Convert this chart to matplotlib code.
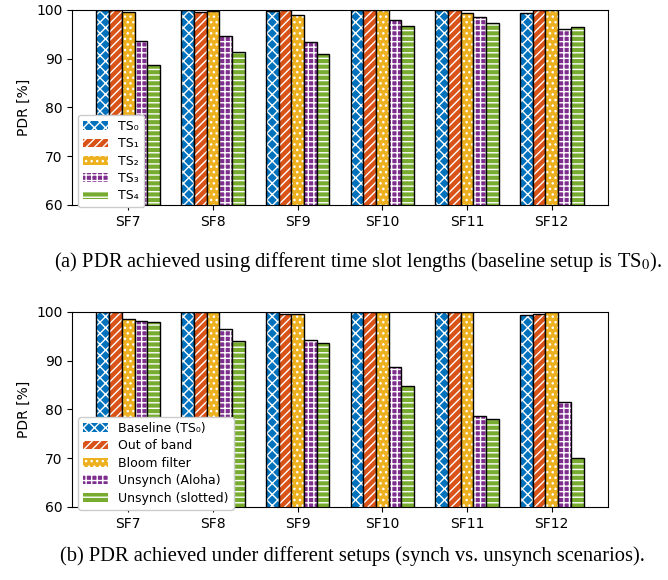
import numpy as np
import matplotlib.pyplot as plt

plt.rcParams['hatch.linewidth'] = 1.0
plt.rcParams['mathtext.fontset'] = 'stix'

sfs = ['SF7', 'SF8', 'SF9', 'SF10', 'SF11', 'SF12']
colors = ['#0072BD', '#D95319', '#EDB120', '#7E2F8E', '#77AC30']
hatches = ['xxx', '////', '...', '+++', '---']

# (a) time slot lengths
ts_labels = ['TS₀', 'TS₁', 'TS₂', 'TS₃', 'TS₄']
ts0 = [99.9, 100.0, 99.8, 100.0, 99.9, 99.4]
ts1 = [100.0, 99.5, 100.0, 100.0, 100.0, 100.0]
ts2 = [99.5, 99.8, 99.0, 100.0, 99.3, 100.0]
ts3 = [93.6, 94.7, 93.4, 98.0, 98.6, 96.2]
ts4 = [88.7, 91.3, 90.9, 96.8, 97.3, 96.6]

# (b) synch vs unsynch setups
setup_labels = ['Baseline (TS₀)', 'Out of band', 'Bloom filter',
                'Unsynch (Aloha)', 'Unsynch (slotted)']
baseline = [99.9, 100.0, 100.0, 100.0, 100.0, 99.4]
out_of_band = [100.0, 100.0, 99.6, 100.0, 100.0, 99.5]
bloom = [98.6, 100.0, 99.6, 100.0, 100.0, 100.0]
aloha = [98.1, 96.5, 94.3, 88.7, 78.6, 81.5]
slotted = [97.9, 94.1, 93.6, 84.8, 78.0, 70.1]

fig = plt.figure(figsize=(6.68, 5.8), dpi=100)
ax1 = fig.add_axes([0.108, 0.6466, 0.802, 0.3362])
ax2 = fig.add_axes([0.108, 0.1259, 0.802, 0.3362])

x = np.arange(len(sfs))
w = 0.15


def draw(ax, series, labels):
    for i, vals in enumerate(series):
        # hatched fill with white hatch lines
        ax.bar(x + (i - 2) * w, vals, w, color=colors[i], hatch=hatches[i],
               edgecolor='white', linewidth=0, label=labels[i])
        # black outline on top
        ax.bar(x + (i - 2) * w, vals, w, fill=False,
               edgecolor='black', linewidth=1.0)
    ax.set_ylim(60, 100)
    ax.set_yticks([60, 70, 80, 90, 100])
    ax.set_xticks(x)
    ax.set_xticklabels(sfs)
    ax.set_ylabel('PDR [%]', fontsize=10)
    ax.tick_params(labelsize=10)
    ax.legend(loc='lower left', bbox_to_anchor=(0.0, -0.045), fontsize=9,
              labelspacing=0.35, framealpha=1.0, edgecolor='#cccccc')


draw(ax1, [ts0, ts1, ts2, ts3, ts4], ts_labels)
draw(ax2, [baseline, out_of_band, bloom, aloha, slotted], setup_labels)

fig.text(0.536, 0.548, '(a) PDR achieved using different time slot lengths (baseline setup is TS$_0$).',
         ha='center', va='center', fontsize=14.8, family='Liberation Serif')
fig.text(0.528, 0.042, '(b) PDR achieved under different setups (synch vs. unsynch scenarios).',
         ha='center', va='center', fontsize=14.8, family='Liberation Serif')

plt.savefig('out.png', dpi=100)
